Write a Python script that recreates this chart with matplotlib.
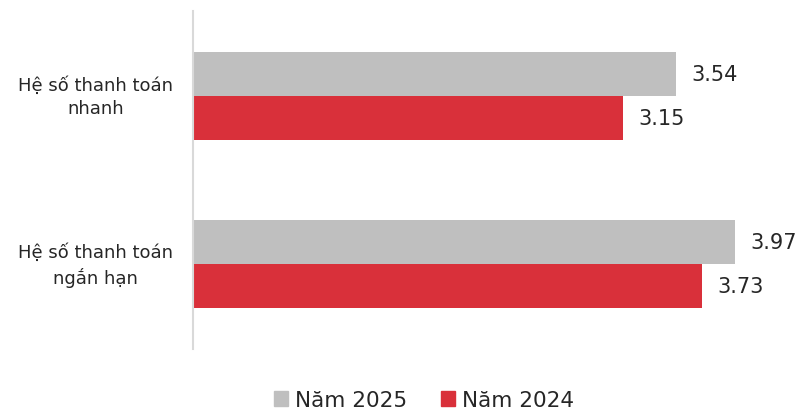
import numpy as np
import matplotlib.pyplot as plt
from matplotlib.patches import Patch

plt.rcParams['font.family'] = ['DejaVu Sans']

# dữ liệu
categories = ['Hệ số thanh toán\nnhanh', 'Hệ số thanh toán\nngắn hạn']
values_2025 = [3.54, 3.97]
values_2024 = [3.15, 3.73]
series_names = ['Năm 2025', 'Năm 2024']

color_2025 = '#BFBFBF'
color_2024 = '#D9303A'

fig = plt.figure(figsize=(8.01, 4.10), dpi=100)
ax = fig.add_axes([193 / 801, 1 - 350 / 410, 602 / 801, 338 / 410])

y = np.arange(len(categories))
bh = 0.262

bars1 = ax.barh(y - bh / 2, values_2025, height=bh, color=color_2025, label=series_names[0])
bars2 = ax.barh(y + bh / 2, values_2024, height=bh, color=color_2024, label=series_names[1])

for bars, vals in [(bars1, values_2025), (bars2, values_2024)]:
    for b, v in zip(bars, vals):
        ax.annotate(f'{v:.2f}', (v, b.get_y() + b.get_height() / 2),
                    xytext=(11, 0), textcoords='offset points',
                    ha='left', va='center', fontsize=15, color='#262626')

ax.set_xlim(0, 4.41)
ax.set_ylim(1.506, -0.506)
ax.set_yticks(y - 0.025)
ax.set_yticklabels(categories, fontsize=13, color='#262626', ha='center',
                   linespacing=1.35)
ax.tick_params(axis='y', length=0, pad=70)
ax.set_xticks([])

for s in ['top', 'right', 'bottom']:
    ax.spines[s].set_visible(False)
ax.spines['left'].set_color('#D9D9D9')
ax.spines['left'].set_linewidth(1.5)

handles = [Patch(color=color_2025, label=series_names[0]),
           Patch(color=color_2024, label=series_names[1])]
fig.legend(handles=handles, loc='center', bbox_to_anchor=(424 / 801, 1 - 401 / 410),
           ncol=2, frameon=False, fontsize=15.5, handlelength=0.65, handleheight=0.65,
           handletextpad=0.3, columnspacing=1.6, labelcolor='#262626',
           borderpad=0.1)

fig.savefig('out.png', dpi=100)
